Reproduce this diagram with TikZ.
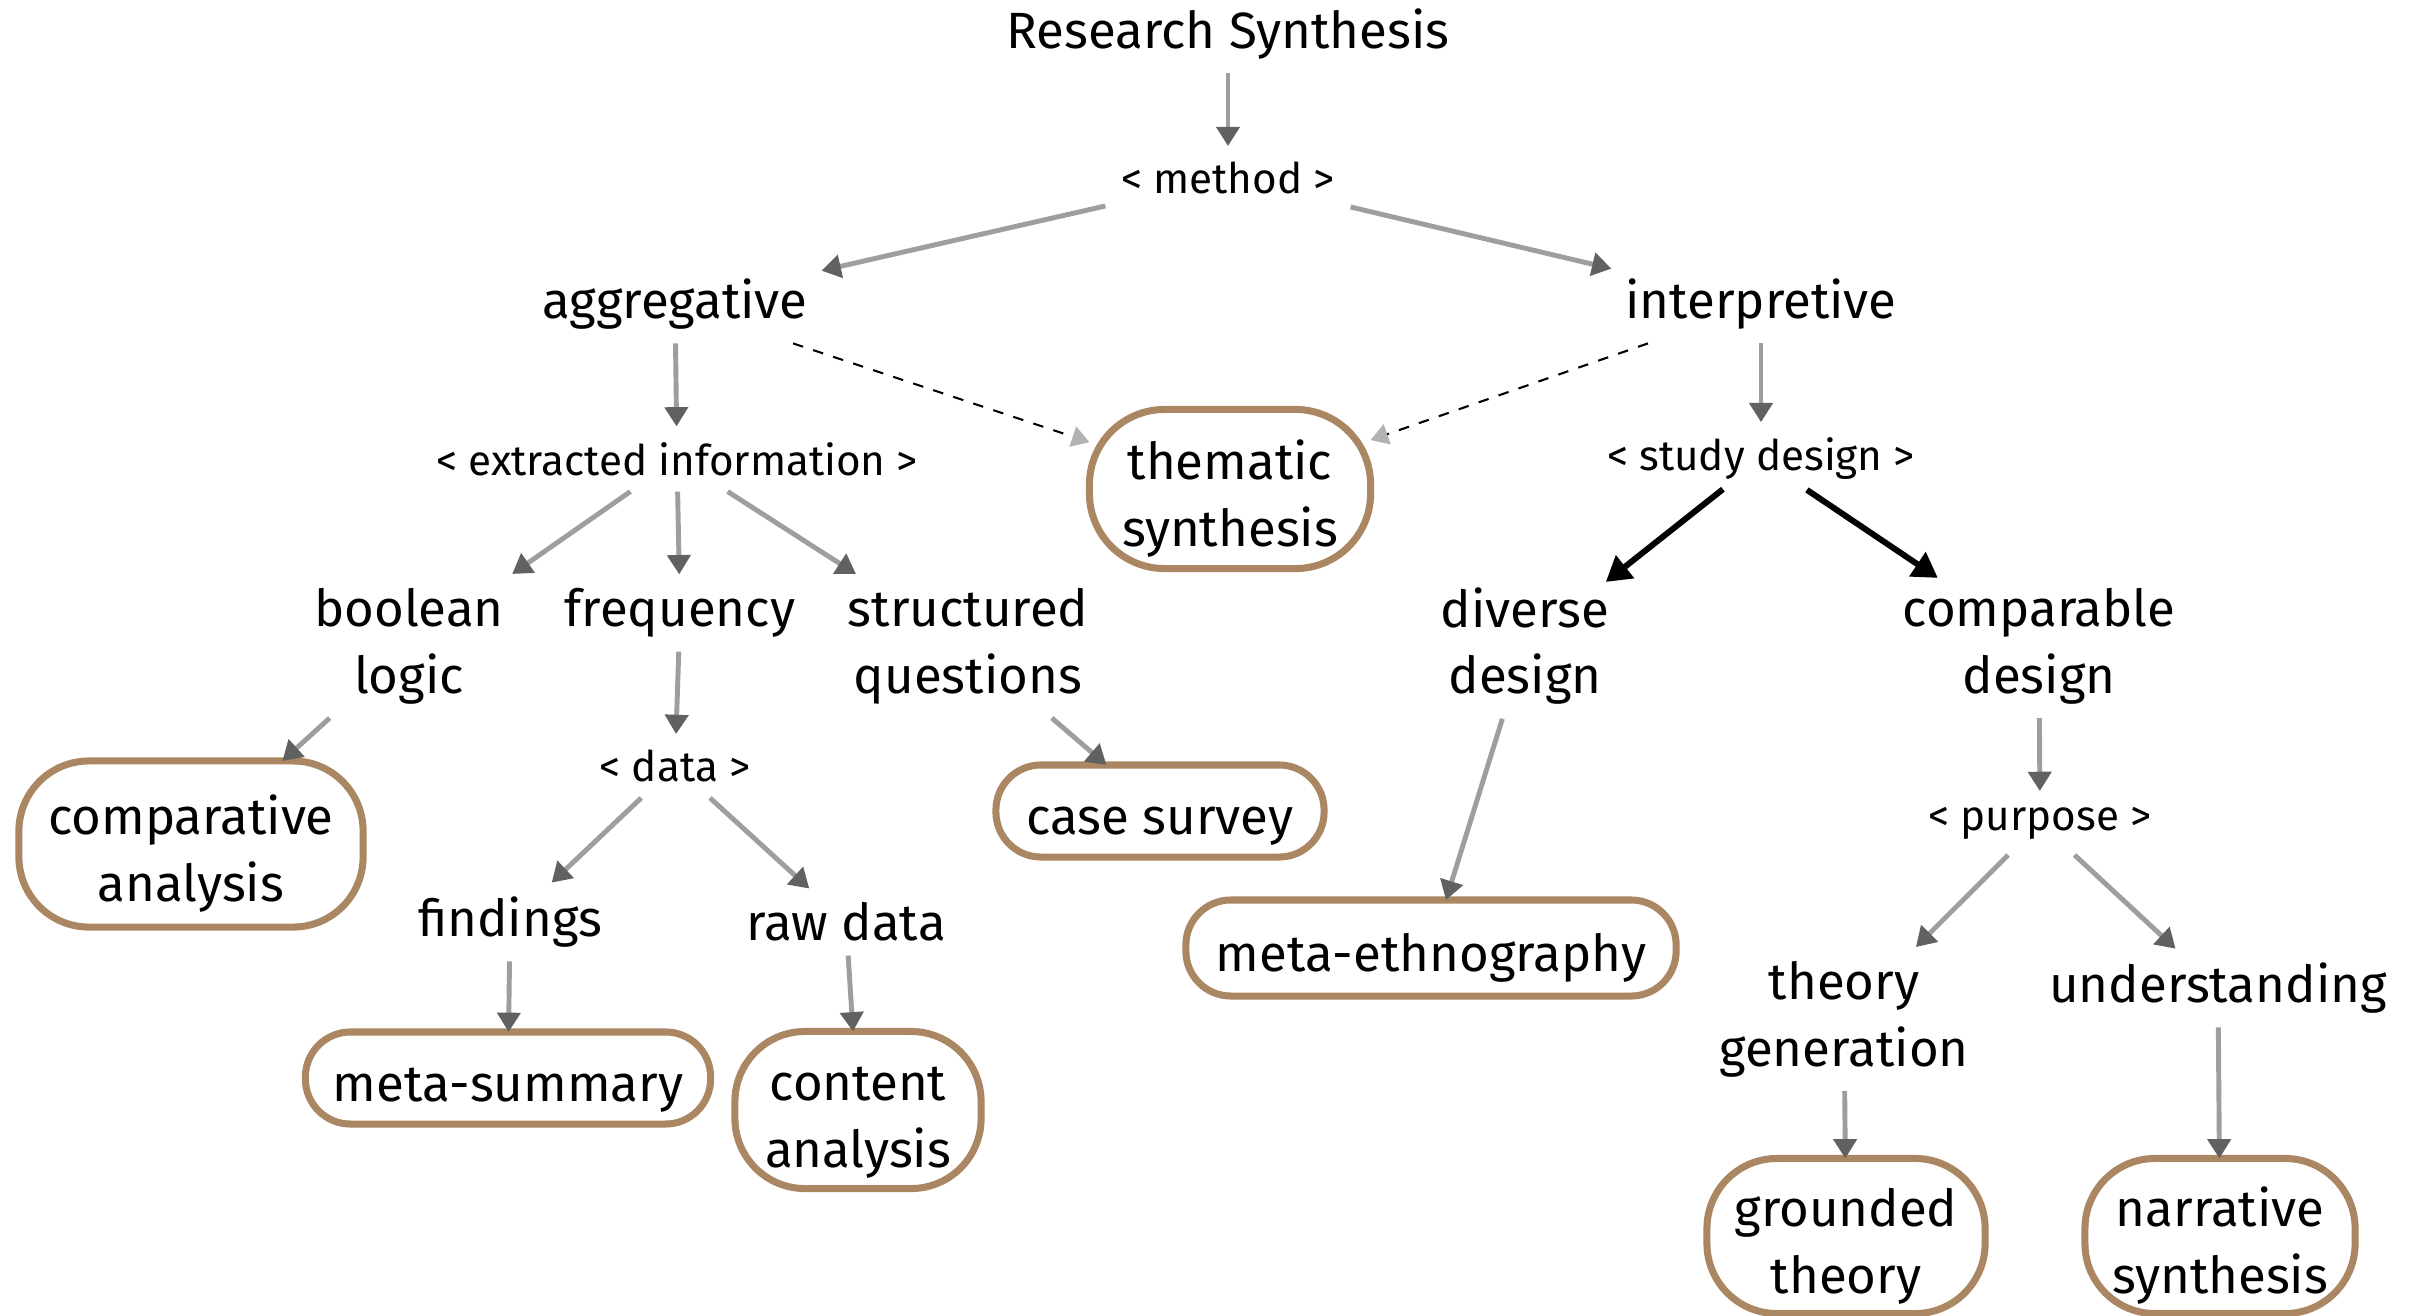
\documentclass[tikz,border=0pt]{standalone}
\usepackage{fontspec}
\setmainfont{Fira Sans}
\usetikzlibrary{arrows.meta}
\usetikzlibrary{positioning}
\definecolor{boxbrown}{RGB}{170,134,98}
\newcommand\restext[1]{\raisebox{-3pt}[\height][\depth]{\begin{tabular}{@{}c@{}}#1\end{tabular}}}
\tikzset{term/.style = {font=\fontsize{14.5}{19}\selectfont, align=center,
                        inner sep=2pt, outer sep=2pt}}
\tikzset{tag/.style = {font=\fontsize{12}{15}\selectfont, inner sep=2pt, outer sep=2.5pt}}
\tikzset{result/.style = {term, draw=boxbrown, line width=2pt, fill=white,
                          outer sep=0pt, rounded corners=0.45cm}}
\tikzset{flow/.style = {draw=black!38, line width=1.4pt,
                        -{Triangle[width=6.5pt,length=5.5pt,color=black!62]}}}
\tikzset{hint/.style = {draw=black, dashed, line width=0.6pt,
                        -{Triangle[width=6pt,length=5pt,color=black!30]}}}
\tikzset{strong/.style = {draw=black, line width=1.7pt,
                          -{Triangle[width=8pt,length=7pt]}}}

\begin{document}
\begin{tikzpicture}[x=0.01cm, y=-0.01cm]
      \useasboundingbox [fill=white] (0, 0) rectangle (2422, 1315);

      \node [term] (title) at (1228, 34) {Research Synthesis};
      \node [tag] (method) at (1228, 178) {< method >};
      \node [term] (aggr) at (675, 304) {aggregative};
      \node [term] (interp) at (1761, 304) {interpretive};

      % aggregative side
      \node [tag] (extract) at (677, 459) {< extracted information >};
      \node [term] (boolean) at (409, 646) {boolean\\logic};
      \node [term] (frequency) at (680, 613) {frequency};
      \node [term] (structured) at (968, 646) {structured\\questions};
      \node [tag] (data) at (675, 766) {< data >};
      \node [term] (findings) at (510, 922) {findings};
      \node [term] (rawdata) at (846, 922) {raw data};

      \node [result, minimum width=3.44cm, minimum height=1.66cm, rounded corners=0.7cm]
        (comparative) at (191, 844) {\restext{comparative\\analysis}};
      \node [result, minimum width=3.28cm, minimum height=0.92cm]
        (casesurvey) at (1160, 811) {\restext{case survey}};
      \node [result, minimum width=4.05cm, minimum height=0.92cm]
        (metasummary) at (508, 1078) {\restext{meta-summary}};
      \node [result, minimum width=2.46cm, minimum height=1.57cm, rounded corners=0.7cm]
        (content) at (858, 1110) {\restext{content\\analysis}};

      % middle
      \node [result, minimum width=2.81cm, minimum height=1.59cm, rounded corners=0.75cm]
        (thematic) at (1230, 489) {\restext{thematic\\synthesis}};

      % interpretive side
      \node [tag] (study) at (1761, 459) {< study design >};
      \node [term] (diverse) at (1525, 646) {diverse\\design};
      \node [term] (comparable) at (2039, 646) {comparable\\design};
      \node [tag] (purpose) at (2040, 823) {< purpose >};
      \node [term] (theorygen) at (1844, 1019) {theory\\generation};
      \node [term] (understanding) at (2218, 988) {understanding};

      \node [result, minimum width=4.90cm, minimum height=0.96cm]
        (metaeth) at (1431, 948) {\restext{meta-ethnography}};
      \node [result, minimum width=2.78cm, minimum height=1.55cm, rounded corners=0.7cm]
        (grounded) at (1846, 1236) {\restext{grounded\\theory}};
      \node [result, minimum width=2.70cm, minimum height=1.55cm, rounded corners=0.7cm]
        (narrative) at (2220, 1236) {\restext{narrative\\synthesis}};

      \foreach \a/\b in {title/method, method/aggr, method/interp, aggr/extract,
                         interp/study, extract/boolean, extract/frequency,
                         extract/structured, boolean/comparative, frequency/data,
                         structured/casesurvey, data/findings, data/rawdata,
                         findings/metasummary, rawdata/content, diverse/metaeth,
                         comparable/purpose, purpose/theorygen, purpose/understanding,
                         theorygen/grounded, understanding/narrative} {
        \draw [flow] (\a) -- (\b);
      }

      \draw [hint] (aggr) -- (thematic);
      \draw [hint] (interp) -- (thematic);

      \draw [strong, shorten <=-3pt, shorten >=-4pt] (study) -- (diverse);
      \draw [strong, shorten <=-3pt, shorten >=-2pt] (study) -- (comparable);
    \end{tikzpicture}
\end{document}
